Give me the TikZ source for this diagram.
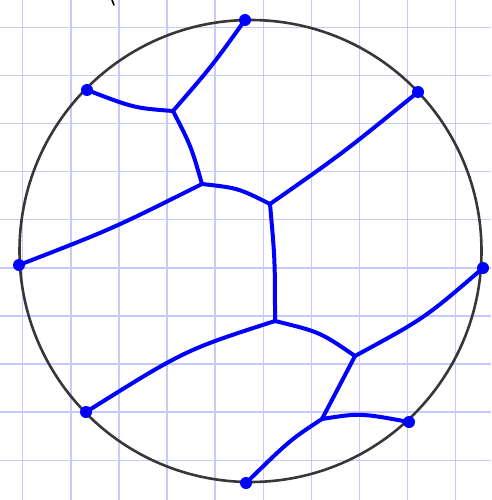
\documentclass[tikz,border=0pt]{standalone}
\begin{document}
\begin{tikzpicture}[x=1pt,y=-1pt,
  gridline/.style={draw=gridc,line width=1.4pt},
  rim/.style={draw=rimc,line width=2.6pt},
  edge/.style={draw=blue,line width=4pt,line cap=round,line join=round},
  dot/.style={fill=blue}]
\definecolor{gridc}{RGB}{200,200,255}
\definecolor{rimc}{RGB}{55,55,55}
\useasboundingbox (0,0) rectangle (491,500);
\fill[white] (0,0) rectangle (491,500);
% grid
\foreach \i in {0,...,9} {
  \draw[gridline] ({22.7+48.1*\i},0) -- ({22.7+48.1*\i},500);
  \draw[gridline] (0,{27.3+48.1*\i}) -- (491,{27.3+48.1*\i});
}
% small tick at top
\draw[black,line width=1.6pt,line cap=round] (112,0) -- (114,5);
% circle
\draw[rim] (250.5,251) circle[radius=231];
% boundary points
\coordinate (T) at (245,20);
\coordinate (UL) at (87,90);
\coordinate (UR) at (418,92);
\coordinate (L) at (19,265);
\coordinate (R) at (483,268);
\coordinate (LL) at (86,412);
\coordinate (BT) at (246,483);
\coordinate (LR) at (409,422);
% interior vertices
\coordinate (A) at (173,111);
\coordinate (Bv) at (202,184);
\coordinate (C) at (270,204);
\coordinate (D) at (275,321);
\coordinate (E) at (355,356);
\coordinate (F) at (322,419);
% edges
\draw[edge] (T) .. controls (212,66) .. (A);
\draw[edge] (UL) .. controls (134,108) .. (A);
\draw[edge] (A) .. controls (191,146) .. (Bv);
\draw[edge] (Bv) .. controls (112,229) .. (L);
\draw[edge] (Bv) .. controls (238,188) .. (C);
\draw[edge] (C) .. controls (343,153) .. (UR);
\draw[edge] (C) .. controls (275,260) .. (D);
\draw[edge] (D) .. controls (185,350) .. (LL);
\draw[edge] (D) .. controls (320,332) .. (E);
\draw[edge] (E) .. controls (425,318) .. (R);
\draw[edge] (E) .. controls (338,388) .. (F);
\draw[edge] (F) .. controls (360,413) .. (LR);
\draw[edge] (F) .. controls (290,440) .. (BT);
% dots
\foreach \p in {T,UL,UR,L,R,LL,BT,LR} \fill[dot] (\p) circle[radius=6];
\end{tikzpicture}
\end{document}
